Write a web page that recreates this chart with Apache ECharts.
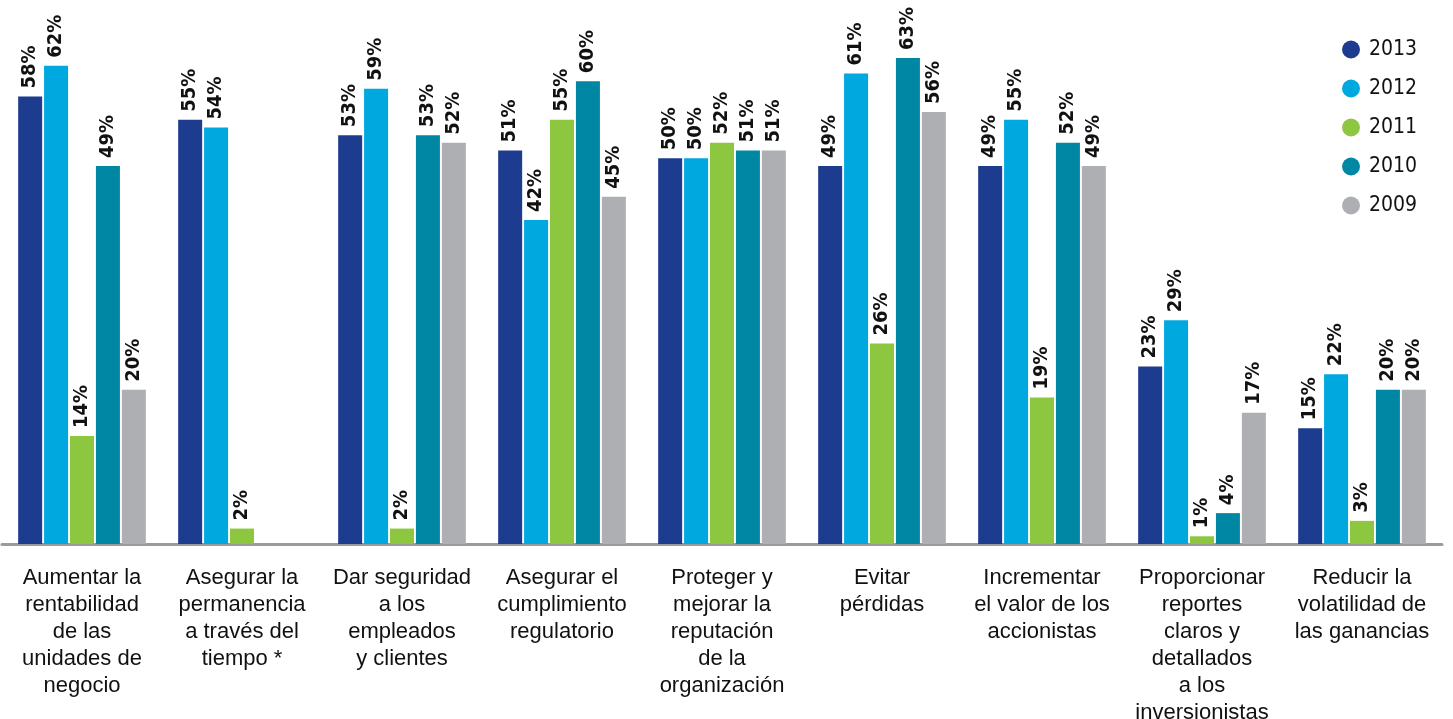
<!DOCTYPE html>
<html>
<head>
<meta charset="utf-8">
<script src="https://cdn.jsdelivr.net/npm/echarts@6/dist/echarts.min.js"></script>
<style>
  html, body { margin: 0; padding: 0; background: #fff; }
  #chart-panel { width: 1453px; height: 719px; }
</style>
</head>
<body>
<div id="chart-panel"></div>
<script>
// categorias del eje x
var categorias = [
    'Aumentar la\nrentabilidad\nde las\nunidades de\nnegocio',
    'Asegurar la\npermanencia\na través del\ntiempo *',
    'Dar seguridad\na los\nempleados\ny clientes',
    'Asegurar el\ncumplimiento\nregulatorio',
    'Proteger y\nmejorar la\nreputación\nde la\norganización',
    'Evitar\npérdidas',
    'Incrementar\nel valor de los\naccionistas',
    'Proporcionar\nreportes\nclaros y\ndetallados\na los\ninversionistas',
    'Reducir la\nvolatilidad de\nlas ganancias'
];

var anios = ['2013', '2012', '2011', '2010', '2009'];

// porcentajes por año
var datos2013 = [58, 55, 53, 51, 50, 49, 49, 23, 15];
var datos2012 = [62, 54, 59, 42, 50, 61, 55, 29, 22];
var datos2011 = [14, 2, 2, 55, 52, 26, 19, 1, 3];
var datos2010 = [49, null, 53, 60, 51, 63, 52, 4, 20];
var datos2009 = [20, null, 52, 45, 51, 56, 49, 17, 20];

var colores = ['#1e3c8f', '#00a8e0', '#8dc63f', '#0087a3', '#adafb2'];

var fuenteAngosta = '"Liberation Sans Narrow", "DejaVu Sans Condensed", sans-serif';

var myChart = echarts.init(document.getElementById('chart-panel'));

function serie(nombre, datos, color) {
    return {
        name: nombre,
        type: 'bar',
        data: datos,
        barWidth: 24,
        barGap: '8%',
        itemStyle: { color: color },
        label: {
            show: true,
            position: 'top',
            rotate: 90,
            align: 'left',
            verticalAlign: 'middle',
            distance: 8,
            formatter: '{c}%',
            color: '#111',
            fontFamily: fuenteAngosta,
            fontWeight: 'bold',
            fontSize: 20
        }
    };
}

var option = {
    animation: false,
    color: colores,
    grid: {
        left: 2,
        right: 11,
        top: 4,
        bottom: 175,
        containLabel: false,
        outerBoundsMode: 'none'
    },
    legend: {
        orient: 'vertical',
        left: 1337,
        top: 34,
        icon: 'circle',
        itemWidth: 18,
        itemHeight: 18,
        itemGap: 18,
        data: anios,
        textStyle: {
            color: '#111',
            fontFamily: fuenteAngosta,
            fontSize: 21,
            padding: [0, 0, 0, 4]
        }
    },
    xAxis: {
        type: 'category',
        data: categorias,
        axisTick: { show: false },
        axisLine: { lineStyle: { color: '#9b9b9b', width: 3 } },
        axisLabel: {
            interval: 0,
            margin: 20,
            color: '#111',
            fontFamily: '"Liberation Sans", Arial, sans-serif',
            fontSize: 22,
            lineHeight: 27
        }
    },
    yAxis: {
        type: 'value',
        min: 0,
        max: 70,
        show: false,
        splitLine: { show: false }
    },
    series: [
        serie(anios[0], datos2013, colores[0]),
        serie(anios[1], datos2012, colores[1]),
        serie(anios[2], datos2011, colores[2]),
        serie(anios[3], datos2010, colores[3]),
        serie(anios[4], datos2009, colores[4])
    ]
};
myChart.setOption(option);
</script>
</body>
</html>
